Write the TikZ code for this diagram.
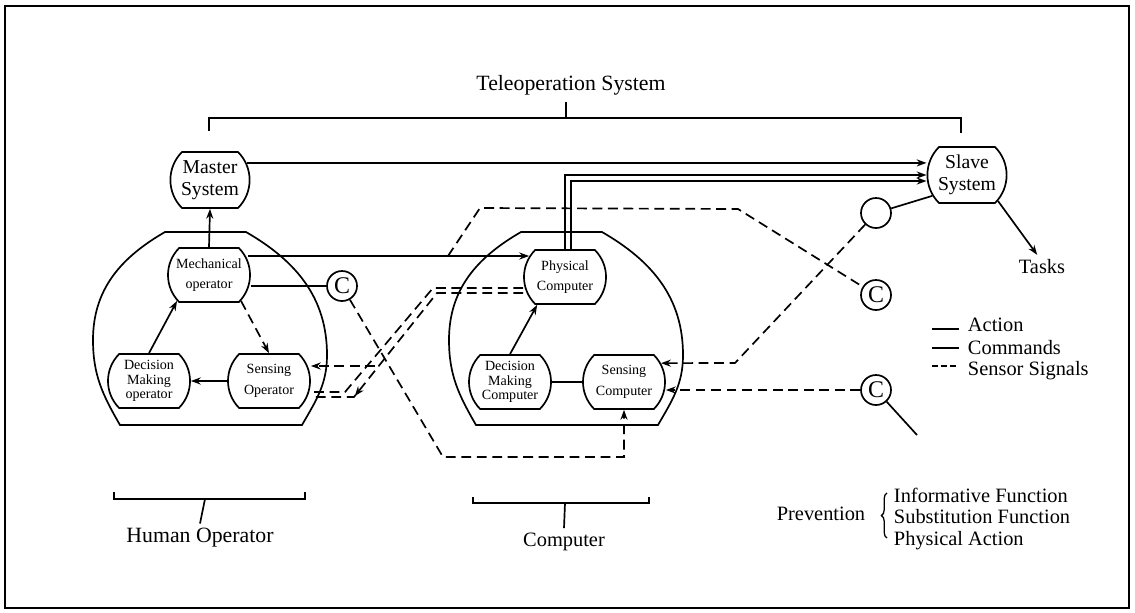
\documentclass[tikz,border=0pt]{standalone}
\usepackage{fontspec}
\setmainfont{Liberation Serif}
\usepackage{tikz}
\usetikzlibrary{arrows.meta, positioning, shapes.misc, calc, decorations.markings, decorations.pathreplacing}
\tikzset{
    unit/.style={
        rounded rectangle,
        rounded rectangle arc length=90,
        draw,
        line width=1.2pt,
        minimum width=2.05cm,
        minimum height=1.35cm,
        inner sep=0pt,
        align=center,
        font=\fontsize{10}{14.5}\selectfont
    },
    tallunit/.style={
        unit,
        font=\fontsize{10}{10.5}\selectfont
    },
    sysunit/.style={
        unit,
        minimum width=1.95cm,
        minimum height=1.4cm,
        font=\fontsize{14}{16}\selectfont
    },
    check/.style={
        circle,
        draw,
        line width=1.2pt,
        minimum size=0.75cm,
        inner sep=0pt,
        font=\fontsize{17}{17}\selectfont
    },
    cmd/.style={
        line width=1.2pt
    },
    act/.style={
        cmd,
        -{Stealth[length=7pt,width=5pt]}
    },
    sigline/.style={
        cmd,
        dash pattern=on 7pt off 4pt
    },
    sig/.style={
        sigline,
        -{Stealth[length=7pt,width=5pt]}
    },
    bigtext/.style={
        font=\fontsize{14.5}{16}\selectfont
    }
}

\begin{document}
\begin{tikzpicture}[x=0.025cm, y=0.025cm]
    \useasboundingbox (0,0) rectangle (1135,-612);
    \draw[line width=1.6pt] (5,-6) rectangle (1129,-608);

    % operator and computer shells
    \foreach \cx in {210,566} {
        \draw[cmd] (\cx-45,-232) -- (\cx+36,-232)
            to[out=-30,in=90] (\cx+117,-355)
            to[out=-90,in=60] (\cx+92,-425) -- (\cx-90,-425)
            to[out=120,in=-90] (\cx-117,-340)
            to[out=90,in=210] (\cx-45,-232) -- cycle;
    }

    % blocks
    \node[sysunit] (master) at (210,-180) {Master\\System};
    \node[sysunit] (slave) at (967,-175) {Slave\\System};
    \node[unit] (mech) at (209,-275) {Mechanical\\operator};
    \node[tallunit] (dmo) at (149,-381) {Decision\\Making\\operator};
    \node[unit] (senso) at (269,-381) {Sensing\\Operator};
    \node[unit] (phys) at (565,-277) {Physical\\Computer};
    \node[tallunit] (dmc) at (510,-382) {Decision\\Making\\Computer};
    \node[unit] (sensc) at (624,-382) {Sensing\\Computer};

    \node[check] (c1) at (342,-286) {C};
    \node[check] (c2) at (876,-295) {C};
    \node[check] (c3) at (876,-390) {C};
    \node[check] (blank) at (876,-213) {};

    \node[bigtext] (tasks) at (1042,-267) {Tasks};
    \node[bigtext, font=\fontsize{15.5}{17}\selectfont] (title) at (571,-85) {Teleoperation System};
    \node[bigtext, font=\fontsize{15.5}{17}\selectfont] (human) at (200,-538) {Human Operator};
    \node[bigtext] (comp) at (564,-542) {Computer};

    % brackets
    \draw[cmd] (209,-131) |- (961,-118) -- (961,-133);
    \draw[cmd] (566,-118) -- (566,-102);
    \draw[cmd] (114,-492) |- (305,-499) -- (305,-492);
    \draw[cmd] (205,-499) -- (human.north);
    \draw[cmd] (473,-497) |- (649,-503) -- (649,-497);
    \draw[cmd] (565,-503) -- (comp.north);

    % actions and commands
    \draw[act] (mech.north) -- (master.south);
    \draw[act] (dmo.north) -- (mech.219);
    \draw[sig] (mech.321) -- (senso.north);
    \draw[act] (senso.west) -- (dmo.east);
    \draw[act] (dmc.north) -- (phys.225);
    \draw[cmd] (dmc.east) -- (sensc.west);
    \draw[cmd] (mech.east |- c1) -- (c1);
    \draw[act] (master.25) -- (master.25 -| slave.west);
    \draw[act] ($(mech.east)+(-3,19)$) -- ($(phys.west)+(6,21)$);
    \draw[act] (phys.north) |- (slave.west);
    \draw[act] ($(phys.north)+(6,0)$) |- ($(slave.west)+(0,-6)$);
    \draw[cmd] (blank) -- (slave.211);
    \draw[act] (slave.-40) -- ([xshift=-0.12cm]tasks.north);

    % sensor signals
    \coordinate (tap) at (448,-256);
    \draw[sigline] (tap) -- (480,-208) -- (738,-209) -- (c2);
    \draw[sig] (c1.-60) -- (443,-457) -| (sensc.south);
    \draw[sig] (blank) -- (735,-363) -- (sensc.27);
    \draw[sig] (c3) -- (c3 -| sensc.east);
    \coordinate (probe) at (917,-435);
    \draw[cmd] (c3) -- (probe);
    \draw[sigline] ($(phys.west)+(0,-11)$) -- (433,-288) -- (345,-392) -- ($(senso.east)+(0,-11)$);
    \draw[sigline, postaction={decorate}, decoration={markings,
        mark=at position 5.45cm with {\pgfsetdash{}{0pt}\arrow{Stealth[length=7pt,width=5pt]}}}]
        ($(phys.west)+(0,-16)$) -- (437,-293) -- (354,-397) -- ($(senso.east)+(0,-16)$);
    \coordinate (split) at (375,-366);
    \draw[sig] (split) -- ($(senso.east)+(0,15)$);

    % legend
    \draw[line width=1.4pt] (932,-329) -- (959,-329);
    \draw[line width=0.9pt] (932,-348) -- (959,-348);
    \draw[line width=1.1pt, dash pattern=on 4pt off 2.5pt] (932,-366) -- (959,-366);
    \node[bigtext, anchor=base west] (lact) at (963,-331) {Action};
    \node[bigtext, anchor=base west] (lcmd) at (963,-354) {Commands};
    \node[bigtext, anchor=base west] (lsig) at (963,-375) {Sensor Signals};

    % prevention
    \node[bigtext] (prev) at (821,-514) {Prevention};
    \draw[decorate, decoration={brace, amplitude=4pt}, line width=0.9pt] (887,-538) -- (887,-493);
    \node[bigtext, anchor=west, align=left, font=\fontsize{14.5}{15.5}\selectfont] (prevlist) at (889,-519)
        {Informative Function\\Substitution Function\\Physical Action};
\end{tikzpicture}
\end{document}
